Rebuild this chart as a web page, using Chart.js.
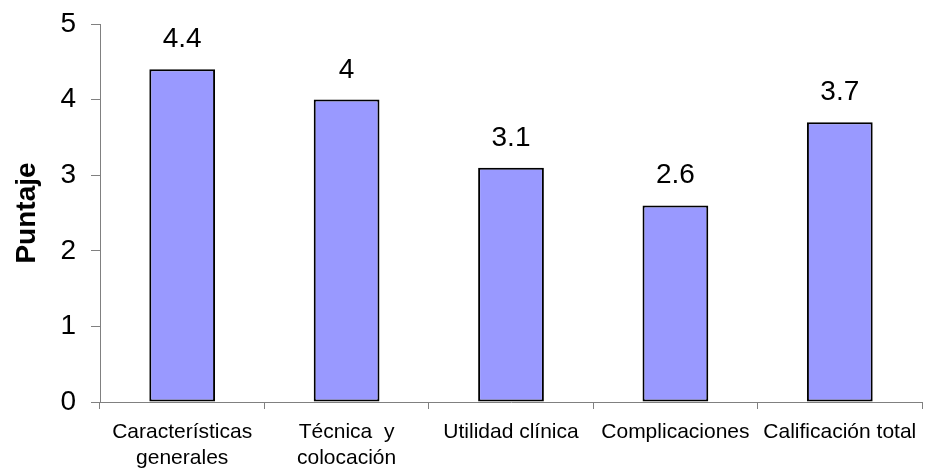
<!DOCTYPE html>
<html>
<head>
<meta charset="utf-8">
<script src="https://cdn.jsdelivr.net/npm/chart.js@4/dist/chart.umd.min.js"></script>
<style>
  html, body { margin: 0; padding: 0; background: #fff; }
  #wrap { width: 925px; height: 475px; }
</style>
</head>
<body>
<div id="wrap"><canvas id="puntaje"></canvas></div>
<script>
const categories = [
  ["Características", "generales"],
  ["Técnica  y", "colocación"],
  "Utilidad clínica",
  "Complicaciones",
  "Calificación total"
];
const scores = [4.4, 4, 3.1, 2.6, 3.7];
const yTicks = [0, 1, 2, 3, 4, 5];

const FONT = "'Liberation Sans', Arial, sans-serif";

// writes the value above each bar
const valueLabels = {
  id: "valueLabels",
  afterDatasetsDraw(chart) {
    const ctx = chart.ctx;
    const meta = chart.getDatasetMeta(0);
    ctx.save();
    ctx.fillStyle = "#000";
    ctx.font = "28px " + FONT;
    ctx.textAlign = "center";
    ctx.textBaseline = "alphabetic";
    meta.data.forEach((bar, i) => {
      ctx.fillText(String(scores[i]), bar.x, bar.y - 22);
    });
    ctx.restore();
  }
};

new Chart(document.getElementById("puntaje"), {
  type: "bar",
  data: {
    labels: categories,
    datasets: [{
      data: scores,
      backgroundColor: "#9999FF",
      borderColor: "#000",
      borderWidth: 2,
      borderSkipped: false,
      barPercentage: 0.4,
      categoryPercentage: 1
    }]
  },
  options: {
    responsive: true,
    maintainAspectRatio: false,
    animation: false,
    layout: { padding: { top: 24, right: 3, left: 0, bottom: 0 } },
    plugins: {
      legend: { display: false },
      tooltip: { enabled: false }
    },
    scales: {
      x: {
        grid: {
          offset: true,
          drawOnChartArea: false,
          drawTicks: true,
          tickLength: 7,
          color: "#808080"
        },
        border: { color: "#808080", width: 1 },
        ticks: {
          color: "#000",
          font: { family: FONT, size: 21, lineHeight: 1.24 },
          padding: 10,
          maxRotation: 0,
          autoSkip: false
        },
        afterFit(scale) {
          scale.height = 73;
          scale.paddingLeft = 0;
          scale.paddingRight = 0;
        }
      },
      y: {
        min: 0,
        max: 5,
        afterBuildTicks(scale) {
          scale.ticks = yTicks.map(v => ({ value: v }));
        },
        grid: {
          drawOnChartArea: false,
          drawTicks: true,
          tickLength: 9,
          color: "#808080"
        },
        border: { color: "#808080", width: 1 },
        ticks: {
          color: "#000",
          font: { family: FONT, size: 28 },
          padding: 15
        },
        title: {
          display: true,
          text: "Puntaje",
          color: "#000",
          font: { family: FONT, size: 28, weight: "bold" },
          padding: { top: 10, bottom: 0 }
        },
        afterFit(scale) {
          scale.width = 100;
          scale.paddingTop = 0;
          scale.paddingBottom = 0;
        }
      }
    }
  },
  plugins: [valueLabels]
});
</script>
</body>
</html>
